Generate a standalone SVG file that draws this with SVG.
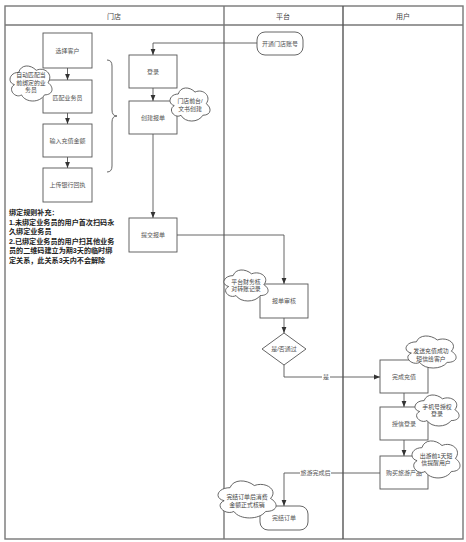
<svg xmlns="http://www.w3.org/2000/svg" xmlns:xlink="http://www.w3.org/1999/xlink" width="466" height="542" viewBox="0 0 466 542">
<style>
text{font-family:"Liberation Sans","Noto Sans CJK SC",sans-serif;}
.lane{fill:none;stroke:#777;stroke-width:1.4;}
.hd{font-size:7px;fill:#444;text-anchor:middle;dominant-baseline:central;}
.box{fill:#fff;stroke:#555;stroke-width:0.9;}
.bt{font-size:6px;fill:#555;text-anchor:middle;dominant-baseline:central;}
.ct{font-size:5.9px;fill:#444;text-anchor:middle;dominant-baseline:central;}
.cl{fill:#fff;stroke:#555;stroke-width:0.9;vector-effect:non-scaling-stroke;}
.ln{fill:none;stroke:#555;stroke-width:0.9;}
.lb{font-size:6px;fill:#555;text-anchor:middle;dominant-baseline:central;}
.note{font-size:7.1px;font-weight:bold;fill:#222;}
</style>
<defs>
<marker id="ah" viewBox="0 0 10 10" refX="10" refY="5" markerWidth="6" markerHeight="6" orient="auto" markerUnits="userSpaceOnUse">
<path d="M0,1 L10,5 L0,9 Z" fill="#333"/>
</marker>
<path id="cloud" class="cl" d="M25,25 C5,25 0,50 16,55 C0,66 18,90 31,80 C40,100 70,100 80,80 C100,80 100,60 87.5,50 C100,30 80,10 62.5,20 C50,5 30,5 25,25 Z"/>
</defs>
<rect width="466" height="542" fill="#fff"/>
<g id="lanes">
<rect class="lane" x="5" y="6" width="458" height="533"/>
<line class="lane" x1="5" y1="25" x2="463" y2="25"/>
<line class="lane" x1="224" y1="6" x2="224" y2="539"/>
<line class="lane" x1="343" y1="6" x2="343" y2="539" style="stroke:#555"/>
<text class="hd" x="114" y="16">门店</text>
<text class="hd" x="283" y="16">平台</text>
<text class="hd" x="403" y="16">用户</text>
</g>
<g id="connectors">
<path class="ln" d="M67.5,68 V80" marker-end="url(#ah)"/>
<path class="ln" d="M67.5,113 V124" marker-end="url(#ah)"/>
<path class="ln" d="M67.5,157 V168" marker-end="url(#ah)"/>
<path class="ln" d="M257,43 H153 V55" marker-end="url(#ah)"/>
<path class="ln" d="M153,88 V101" marker-end="url(#ah)"/>
<path class="ln" d="M153,134 V218" marker-end="url(#ah)"/>
<path class="ln" d="M177,235 H284 V284" marker-end="url(#ah)"/>
<path class="ln" d="M284,318 V333" marker-end="url(#ah)"/>
<path class="ln" d="M284,365 V377 H380" marker-end="url(#ah)"/>
<rect x="322" y="373" width="8" height="8" fill="#fff"/>
<text class="lb" x="326" y="377">是</text>
<path class="ln" d="M404,393 V407" marker-end="url(#ah)"/>
<path class="ln" d="M404,440 V456" marker-end="url(#ah)"/>
<path class="ln" d="M380,473 H284 V506" marker-end="url(#ah)"/>
<rect x="300" y="469" width="31" height="8" fill="#fff"/>
<text class="lb" x="315.5" y="473">旅游完成后</text>
<path class="ln" d="M107,60 Q112,60 112,66 L112,110 Q112,116 117,116 Q112,116 112,122 L112,166 Q112,172 107,172"/>
</g>
<g id="n-select"><rect class="box" x="43" y="33" width="49" height="35"/><text class="bt" x="67.5" y="50.5">选择客户</text></g>
<g id="n-match"><rect class="box" x="43" y="80" width="49" height="33"/><text class="bt" x="67.5" y="98">匹配业务员</text></g>
<g id="n-amount"><rect class="box" x="43" y="124" width="49" height="33"/><text class="bt" x="67.5" y="140.5">输入充值金额</text></g>
<g id="n-upload"><rect class="box" x="43" y="168" width="49" height="34"/><text class="bt" x="67.5" y="185">上传银行回执</text></g>
<g id="c-auto"><use href="#cloud" transform="translate(6.95,62.16) scale(0.469,0.409)"/><text class="ct" x="31" y="75">自动匹配当</text><text class="ct" x="31" y="82.5">前绑定的业</text><text class="ct" x="31" y="90">务员</text></g>
<g id="n-login"><rect class="box" x="129" y="55" width="48" height="33"/><text class="bt" x="153" y="71.5">登录</text></g>
<g id="n-create"><rect class="box" x="129" y="101" width="48" height="33"/><text class="bt" x="153" y="117.5">创建报单</text></g>
<g id="c-front"><use href="#cloud" transform="translate(167.1,84.37) scale(0.447,0.386)"/><text class="ct" x="190" y="101">门店前台/</text><text class="ct" x="190" y="109">文书创建</text></g>
<g id="n-submit"><rect class="box" x="129" y="218" width="48" height="34"/><text class="bt" x="153" y="235">提交报单</text></g>
<g id="note">
<text class="note" x="9" y="215">绑定规则补充：</text>
<text class="note" x="9" y="225">1.未绑定业务员的用户首次扫码永</text>
<text class="note" x="9" y="234">久绑定业务员</text>
<text class="note" x="9" y="244">2.已绑定业务员的用户扫其他业务</text>
<text class="note" x="9" y="253">员的二维码建立为期3天的临时绑</text>
<text class="note" x="9" y="263">定关系，此关系3天内不会解除</text>
</g>
<g id="n-open"><rect class="box" x="257" y="32" width="46" height="23" rx="8"/><text class="bt" x="280" y="43.5">开通门店账号</text></g>
<g id="n-review"><rect class="box" x="260" y="284" width="48" height="34"/><text class="bt" x="284" y="301">报单审核</text></g>
<g id="c-finance"><use href="#cloud" transform="translate(220.8,266.6) scale(0.492,0.362)"/><text class="ct" x="246" y="281.5">平台财务核</text><text class="ct" x="246" y="289">对转账记录</text></g>
<g id="n-decide"><polygon class="box" points="284,333 306,349 284,365 262,349"/><text class="bt" x="284" y="349">是/否通过</text></g>
<g id="n-done"><rect class="box" x="380" y="360" width="48" height="33"/><text class="bt" x="404" y="376.5">完成充值</text></g>
<g id="c-sms"><use href="#cloud" transform="translate(402.4,332.5) scale(0.559,0.374)"/><text class="ct" x="431" y="351">发送充值成功</text><text class="ct" x="431" y="358.5">短信给客户</text></g>
<g id="n-auth"><rect class="box" x="380" y="407" width="48" height="33"/><text class="bt" x="404" y="423.5">授信登录</text></g>
<g id="c-phone"><use href="#cloud" transform="translate(411.8,391.6) scale(0.492,0.362)"/><text class="ct" x="437" y="406.5">手机号授权</text><text class="ct" x="437" y="414">登录</text></g>
<g id="n-buy"><rect class="box" x="380" y="456" width="48" height="33"/><text class="bt" x="404" y="473">购买旅游产品</text></g>
<g id="c-remind"><use href="#cloud" transform="translate(408.5,436.9) scale(0.536,0.432)"/><text class="ct" x="436" y="455.5">出游前1天短</text><text class="ct" x="436" y="463">信提醒用户</text></g>
<g id="n-finish"><rect class="box" x="260" y="506" width="48" height="24" rx="8"/><text class="bt" x="284" y="518">完结订单</text></g>
<g id="c-verify"><use href="#cloud" transform="translate(213.8,476.9) scale(0.648,0.432)"/><text class="ct" x="247" y="497">完结订单后消费</text><text class="ct" x="247" y="505">金额正式核销</text></g>
</svg>
